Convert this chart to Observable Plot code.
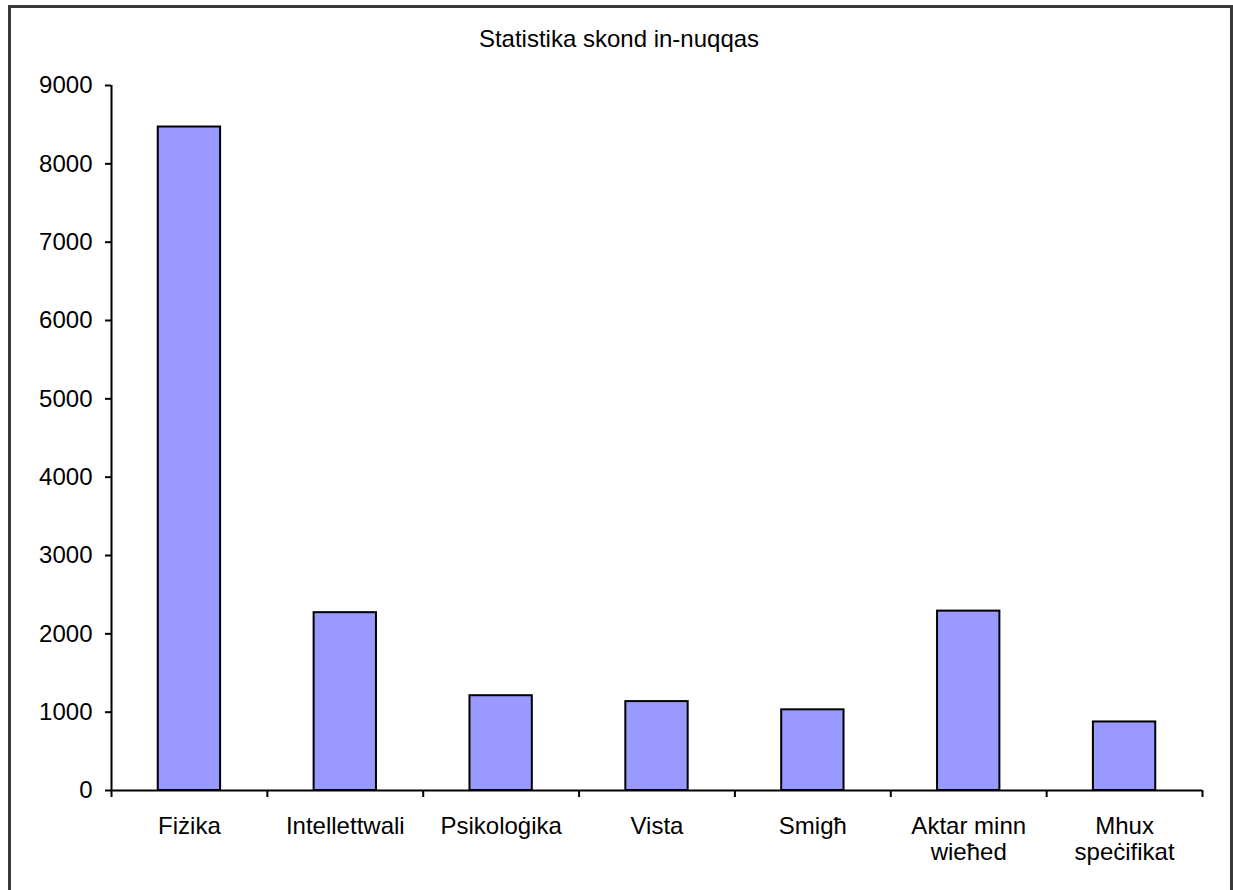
<!DOCTYPE html>
<html>
<head>
<meta charset="utf-8">
<script src="https://cdn.jsdelivr.net/npm/d3@7"></script>
<script src="https://cdn.jsdelivr.net/npm/@observablehq/plot@0.6"></script>
<style>
  html, body { margin: 0; padding: 0; background: #fff; width: 1233px; height: 890px; overflow: hidden; }
  #wrap { position: relative; width: 1233px; height: 890px; }
  #border { position: absolute; left: 8px; top: 5px; width: 1219px; height: 900px; border: 3px solid #3a3a3a; border-bottom: none; box-sizing: content-box; }
  #chart { position: absolute; left: 0; top: 0; }
</style>
</head>
<body>
<div id="wrap">
  <div id="border"></div>
  <div id="chart"></div>
</div>
<script>
const title = "Statistika skond in-nuqqas";
const categories = ["Fiżika", "Intellettwali", "Psikoloġika", "Vista", "Smigħ", "Aktar minn wieħed", "Mhux speċifikat"];
const categoryLabels = ["Fiżika", "Intellettwali", "Psikoloġika", "Vista", "Smigħ", "Aktar minn\nwieħed", "Mhux\nspeċifikat"];
const values = [8470, 2270, 1210, 1135, 1030, 2290, 875];
const yTicks = [0, 1000, 2000, 3000, 4000, 5000, 6000, 7000, 8000, 9000];

const data = categories.map((c, i) => ({category: c, value: values[i]}));
const labelOf = new Map(categories.map((c, i) => [c, categoryLabels[i]]));

const W = 1233, H = 890, ML = 111, MR = 31, MT = 85, MB = 100;
const step = (W - ML - MR) / categories.length;
const plotH = H - MT - MB;

const chart = Plot.plot({
  width: W,
  height: H,
  marginLeft: ML,
  marginRight: MR,
  marginTop: MT,
  marginBottom: MB,
  style: { fontFamily: "'Liberation Sans', Arial, sans-serif", fontSize: "24px", color: "#000", background: "transparent", overflow: "visible" },
  x: { domain: categories, paddingInner: 0.6, paddingOuter: 0.3, round: false, axis: null },
  y: { domain: [0, 9000], axis: null },
  marks: [
    Plot.barY(data, { x: "category", y: "value", fill: "#9999ff", stroke: "#000", strokeWidth: 2 }),
    Plot.axisY({ ticks: yTicks, label: null, tickSize: 6, tickPadding: 13, tickFormat: d => String(d), stroke: "#000", strokeWidth: 2, strokeOpacity: 1, fill: "#000", fontSize: 24 }),
    Plot.axisX({ label: null, tickSize: 0, tickPadding: 25, tickFormat: d => labelOf.get(d), fill: "#000", fontSize: 24, lineHeight: 1.08 }),
    Plot.ruleY([0], { stroke: "#000", strokeWidth: 2 }),
    Plot.ruleX([categories[0]], { x: d => d, dx: -step / 2, stroke: "#000", strokeWidth: 2 }),
    Plot.ruleX(categories, { x: d => d, dx: -step / 2, insetTop: plotH, insetBottom: -7, stroke: "#000", strokeWidth: 2 }),
    Plot.ruleX([categories[categories.length - 1]], { x: d => d, dx: step / 2, insetTop: plotH, insetBottom: -7, stroke: "#000", strokeWidth: 2 }),
    Plot.text([title], { text: d => d, frameAnchor: "top", dx: -38, dy: -56, lineAnchor: "top", fill: "#000", fontSize: 24 })
  ]
});
document.getElementById("chart").appendChild(chart);
</script>
</body>
</html>
